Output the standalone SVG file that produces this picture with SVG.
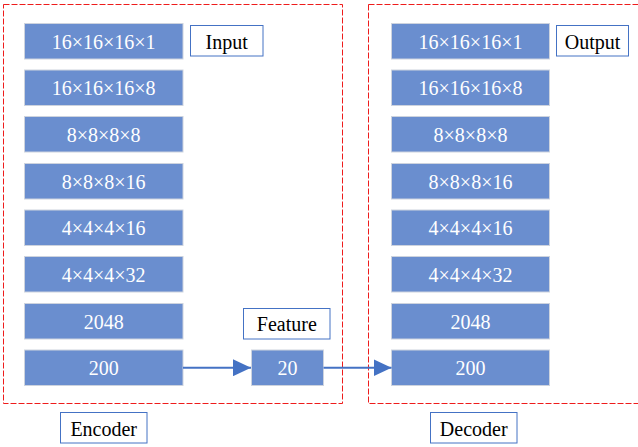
<svg xmlns="http://www.w3.org/2000/svg" width="638" height="447" viewBox="0 0 638 447">
<style>
.frame{fill:none;stroke:#ee1c1c;stroke-width:1;stroke-dasharray:6,2}
.blk rect{fill:#6a8ecf;stroke:#cdd3de;stroke-width:1}
.blk text{fill:#ffffff;font-family:'Liberation Serif','Times New Roman',serif;font-size:20px;text-anchor:middle}
.lbl rect{fill:#ffffff;stroke:#4472c4;stroke-width:1}
.lbl text{fill:#000000;font-family:'Liberation Serif','Times New Roman',serif;font-size:20px;text-anchor:middle}
.conn{stroke:#4472c4;stroke-width:2;fill:none}
</style>
<defs>
<marker id="ah" viewBox="0 0 18 17" markerWidth="18" markerHeight="17" refX="18" refY="8.5" orient="auto" markerUnits="userSpaceOnUse">
<path d="M0,0 L18,8.5 L0,17 Z" fill="#4472c4"/>
</marker>
</defs>
<rect class="frame" x="3.5" y="4.5" width="339" height="399"/>
<rect class="frame" x="368.5" y="4.5" width="280" height="399"/>
<g id="enc1" class="blk"><rect x="24.5" y="23.5" width="158.5" height="35.5"/><text x="103.7" y="48.5">16×16×16×1</text></g>
<g id="enc2" class="blk"><rect x="24.5" y="70" width="158.5" height="35.5"/><text x="103.7" y="95">16×16×16×8</text></g>
<g id="enc3" class="blk"><rect x="24.5" y="116.5" width="158.5" height="35.5"/><text x="103.7" y="141.5">8×8×8×8</text></g>
<g id="enc4" class="blk"><rect x="24.5" y="163.5" width="158.5" height="35.5"/><text x="103.7" y="188.5">8×8×8×16</text></g>
<g id="enc5" class="blk"><rect x="24.5" y="210" width="158.5" height="35.5"/><text x="103.7" y="235">4×4×4×16</text></g>
<g id="enc6" class="blk"><rect x="24.5" y="256.5" width="158.5" height="35.5"/><text x="103.7" y="281.5">4×4×4×32</text></g>
<g id="enc7" class="blk"><rect x="24.5" y="303.5" width="158.5" height="35.5"/><text x="103.7" y="328.5">2048</text></g>
<g id="enc8" class="blk"><rect x="24.5" y="350" width="158.5" height="35.5"/><text x="103.7" y="375">200</text></g>
<g id="feat" class="blk"><rect x="251.5" y="350" width="72" height="35.5"/><text x="287.5" y="375">20</text></g>
<g id="dec1" class="blk"><rect x="391.5" y="23.5" width="158" height="35.5"/><text x="470.5" y="48.5">16×16×16×1</text></g>
<g id="dec2" class="blk"><rect x="391.5" y="70" width="158" height="35.5"/><text x="470.5" y="95">16×16×16×8</text></g>
<g id="dec3" class="blk"><rect x="391.5" y="116.5" width="158" height="35.5"/><text x="470.5" y="141.5">8×8×8×8</text></g>
<g id="dec4" class="blk"><rect x="391.5" y="163.5" width="158" height="35.5"/><text x="470.5" y="188.5">8×8×8×16</text></g>
<g id="dec5" class="blk"><rect x="391.5" y="210" width="158" height="35.5"/><text x="470.5" y="235">4×4×4×16</text></g>
<g id="dec6" class="blk"><rect x="391.5" y="256.5" width="158" height="35.5"/><text x="470.5" y="281.5">4×4×4×32</text></g>
<g id="dec7" class="blk"><rect x="391.5" y="303.5" width="158" height="35.5"/><text x="470.5" y="328.5">2048</text></g>
<g id="dec8" class="blk"><rect x="391.5" y="350" width="158" height="35.5"/><text x="470.5" y="375">200</text></g>
<g id="input" class="lbl"><rect x="190.5" y="25.5" width="72.5" height="30.5"/><text x="226.7" y="48.5">Input</text></g>
<g id="output" class="lbl"><rect x="556.5" y="25.5" width="72" height="30.5"/><text x="592.5" y="48.5">Output</text></g>
<g id="featurelbl" class="lbl"><rect x="243.5" y="308.5" width="86.5" height="30.5"/><text x="286.8" y="331">Feature</text></g>
<g id="encoder" class="lbl"><rect x="60.5" y="412.5" width="86.5" height="30.5"/><text x="103.7" y="436">Encoder</text></g>
<g id="decoder" class="lbl"><rect x="430.5" y="412.5" width="86.5" height="30.5"/><text x="473.7" y="436">Decoder</text></g>
<g id="connectors">
<line class="conn" x1="183" y1="367.7" x2="251" y2="367.7" marker-end="url(#ah)"/>
<line class="conn" x1="323.5" y1="367.7" x2="391.5" y2="367.7" marker-end="url(#ah)"/>
</g>
</svg>
